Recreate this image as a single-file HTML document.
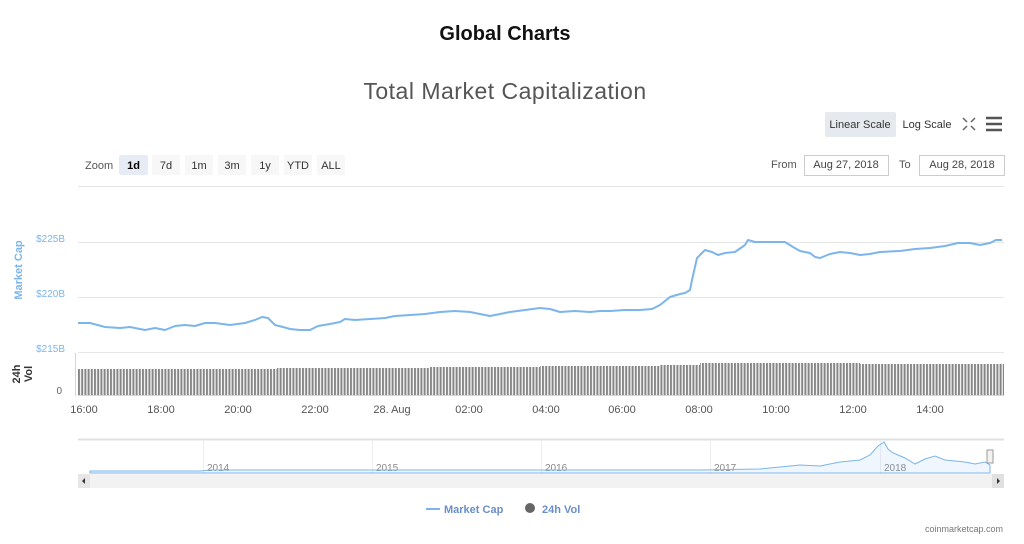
<!DOCTYPE html>
<html><head><meta charset="utf-8"><style>
body{margin:0;background:#fff;width:1024px;height:544px;overflow:hidden;font-family:"Liberation Sans",sans-serif}
svg{position:absolute;left:0;top:0}
</style></head><body>
<svg width="1024" height="544" xmlns="http://www.w3.org/2000/svg" font-family="Liberation Sans, sans-serif">
<defs>
<pattern id="bars" x="78" y="0" width="3.2" height="544" patternUnits="userSpaceOnUse">
<rect x="0" y="0" width="2" height="544" fill="#858585"/>
</pattern>
</defs>
<text x="505" y="40" text-anchor="middle" font-size="20" font-weight="bold" fill="#111">Global Charts</text>
<text x="505" y="99" text-anchor="middle" font-size="23" fill="#555" letter-spacing="0.5">Total Market Capitalization</text>
<rect x="825" y="112" width="71" height="25" rx="2" fill="#e6e9ee"/>
<text x="860" y="128" text-anchor="middle" font-size="11" fill="#333">Linear Scale</text>
<text x="927" y="128" text-anchor="middle" font-size="11" fill="#333">Log Scale</text>
<g stroke="#666" stroke-width="1.5" fill="none">
<path d="M963 118l4 4M975 118l-4 4M963 130l4-4M975 130l-4-4"/>
</g>
<g stroke="#555" stroke-width="2.5"><path d="M986 118h16M986 124h16M986 130h16"/></g>
<text x="85" y="169" font-size="11" fill="#555">Zoom</text>
<rect x="119" y="155" width="29" height="20" rx="2" fill="#e6ebf5"/>
<text x="133.5" y="169" text-anchor="middle" font-size="11" font-weight="bold" fill="#000">1d</text>
<g fill="#f7f7f7"><rect x="152" y="155" width="28" height="20"/><rect x="185" y="155" width="28" height="20"/><rect x="218" y="155" width="28" height="20"/><rect x="251" y="155" width="28" height="20"/><rect x="284" y="155" width="28" height="20"/><rect x="317" y="155" width="28" height="20"/></g>
<g font-size="11" fill="#333" text-anchor="middle"><text x="166" y="169">7d</text><text x="199" y="169">1m</text><text x="232" y="169">3m</text><text x="265" y="169">1y</text><text x="298" y="169">YTD</text><text x="331" y="169">ALL</text></g>
<text x="771" y="168" font-size="11" fill="#555">From</text>
<rect x="804.5" y="155.5" width="84" height="20" fill="#fff" stroke="#ccc"/>
<text x="846" y="168" text-anchor="middle" font-size="11" fill="#444">Aug 27, 2018</text>
<text x="899" y="168" font-size="11" fill="#555">To</text>
<rect x="919.5" y="155.5" width="85" height="20" fill="#fff" stroke="#ccc"/>
<text x="962" y="168" text-anchor="middle" font-size="11" fill="#444">Aug 28, 2018</text>
<g stroke="#e6e6e6" stroke-width="1"><path d="M78 186.5H1004M78 242.5H1004M78 297.5H1004M78 352.5H1004"/></g>
<g font-size="10" fill="#7cb5ec" text-anchor="end"><text x="65" y="242">$225B</text><text x="65" y="297">$220B</text><text x="65" y="352">$215B</text></g>
<text transform="translate(22,270) rotate(-90)" text-anchor="middle" font-size="11" font-weight="bold" fill="#7cb5ec">Market Cap</text>
<text transform="translate(20,374) rotate(-90)" text-anchor="middle" font-size="11" font-weight="bold" fill="#333">24h</text>
<text transform="translate(32,374) rotate(-90)" text-anchor="middle" font-size="11" font-weight="bold" fill="#333">Vol</text>
<text x="62" y="394" font-size="10" fill="#666" text-anchor="end">0</text>
<path d="M75.5 353V396" stroke="#ccd6eb"/>
<path d="M78 369H277V368H430V367H540V366H660V365H700V363H860V364H1004V395.5H78Z" fill="url(#bars)"/>
<path d="M78 395.5H1004" stroke="#ccd6eb"/>
<g font-size="11" fill="#555" text-anchor="middle"><text x="84" y="413">16:00</text><text x="161" y="413">18:00</text><text x="238" y="413">20:00</text><text x="315" y="413">22:00</text><text x="392" y="413">28. Aug</text><text x="469" y="413">02:00</text><text x="546" y="413">04:00</text><text x="622" y="413">06:00</text><text x="699" y="413">08:00</text><text x="776" y="413">10:00</text><text x="853" y="413">12:00</text><text x="930" y="413">14:00</text></g>
<polyline fill="none" stroke="#7cb5ec" stroke-width="2" stroke-linejoin="round" points="78,323 90,323 105,327 120,328 130,327 145,330 155,328 165,330 175,326 185,325 195,326 205,323 215,323 230,325 245,323 255,320 262,317 268,318 275,325 283,327 290,329 300,330 310,330 318,326 330,324 340,322 345,319 355,320 370,319 385,318 395,316 410,315 425,314 440,312 455,311 470,312 480,314 490,316 500,314 510,312 525,310 540,308 550,309 560,312 575,311 590,312 600,311 610,311 625,310 640,310 652,309 660,305 670,297 680,294 685,293 690,290 692,280 697,258 705,250 712,252 718,255 725,253 735,252 745,245 748,240 755,242 765,242 785,242 793,247 800,251 810,253 815,257 820,258 830,254 840,252 850,253 860,255 870,254 880,252 900,251 915,249 930,248 945,246 958,243 970,243 980,245 990,243 996,240 1002,240"/>
<path d="M78 439.5H1004" stroke="#e0e0e0" stroke-width="2"/>
<g stroke="#eee"><path d="M203.5 440V474M372.5 440V474M541.5 440V474M710.5 440V474M880.5 440V474"/></g>
<g font-size="10" fill="#888"><text x="207" y="471">2014</text><text x="376" y="471">2015</text><text x="545" y="471">2016</text><text x="714" y="471">2017</text><text x="884" y="471">2018</text></g>
<path d="M90 471H200L210 470H700L760 469L780 467L800 465L820 466L840 462L860 460L870 455L878 446L884 442L888 449L893 453L898 455L905 458L915 464L925 459L935 456L945 460L955 461L965 462L975 464L985 462L990 465V473H90Z" fill="#7cb5ec" fill-opacity="0.12" stroke="#7cb5ec" stroke-width="1"/>
<rect x="987" y="450" width="6" height="13" fill="#f2f2f2" stroke="#999"/>
<rect x="78" y="474" width="926" height="14" fill="#f2f2f2"/>
<rect x="78" y="474" width="12" height="14" fill="#e6e6e6"/>
<rect x="992" y="474" width="12" height="14" fill="#e0e0e0"/>
<path d="M85 478l-3 3 3 3Z M997 478l3 3-3 3Z" fill="#333"/>
<path d="M426 509H440" stroke="#7cb5ec" stroke-width="2"/>
<text x="444" y="513" font-size="11" font-weight="bold" fill="#6a8fc7">Market Cap</text>
<circle cx="530" cy="508" r="5" fill="#666"/>
<text x="542" y="513" font-size="11" font-weight="bold" fill="#6a8fc7">24h Vol</text>
<text x="1003" y="532" text-anchor="end" font-size="9" fill="#777">coinmarketcap.com</text>
</svg>
</body></html>
